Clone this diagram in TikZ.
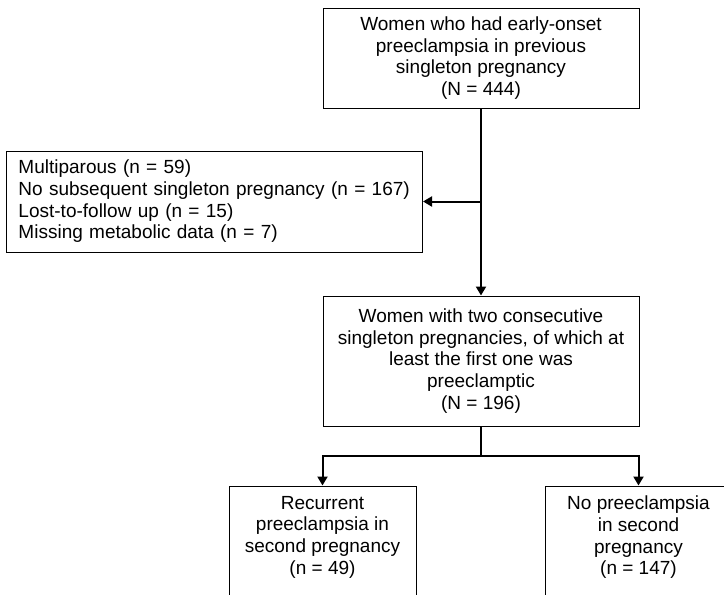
\documentclass[tikz,border=0pt]{standalone}
\usepackage{fontspec}
\setmainfont{Liberation Sans}
\usetikzlibrary{positioning,arrows.meta}

\tikzset{
    box/.style={draw, line width=1pt, align=center,
        minimum width=316pt, font=\fontsize{19}{21.7}\selectfont},
    exclbox/.style={draw, line width=1pt, align=left,
        text width=392pt, inner xsep=12pt, minimum height=101pt,
        font=\fontsize{19}{21.7}\selectfont},
    openbox/.style={draw, line width=1pt, inner xsep=0pt, inner ysep=10pt,
        font=\fontsize{19}{21.7}\selectfont,
        execute at begin node={\begin{minipage}[t][150pt][t]{187pt}\centering},
        execute at end node={\end{minipage}}},
    flow/.style={line width=2pt, -{Triangle[width=10pt,length=9pt]}}
}

\begin{document}
\begin{tikzpicture}
            \useasboundingbox (0,0) rectangle (724pt,-595pt);
            \clip (0,0) rectangle (724pt,-595pt);

            \node[box, minimum height=100pt] (first) at (481pt,-58pt)
            {Women who had early-onset\\preeclampsia in previous\\singleton pregnancy\\(N = 444)};

            \node[exclbox,
            below left=42pt and 58pt of first.south] (excl)
            {Multiparous (n = 59)\\No subsequent singleton pregnancy (n = 167)\\Lost-to-follow up (n = 15)\\Missing metabolic data (n = 7)};

            \node[box,
            minimum height=130pt,
            below=187pt of first] (study)
            {Women with two consecutive\\singleton pregnancies, of which at\\least the first one was\\preeclamptic\\(N = 196)};

            \node[openbox, below=59pt of study.south, xshift=-158.5pt] (recur)
            {Recurrent\\preeclampsia in\\second pregnancy\\(n = 49)};

            \node[openbox, below=59pt of study.south, xshift=157.5pt] (norecur)
            {No preeclampsia\\in second\\pregnancy\\(n = 147)};

            \coordinate (split) at (first.south |- excl.east);
            \coordinate[below=29pt of study.south] (fork);

            \draw[flow] (first) -- (study);
            \draw[flow] (split) -- (excl);
            \draw[line width=2pt] (study) -- (fork);
            \draw[flow] (fork) -| (recur);
            \draw[flow] (fork) -| (norecur);
          \end{tikzpicture}
\end{document}
